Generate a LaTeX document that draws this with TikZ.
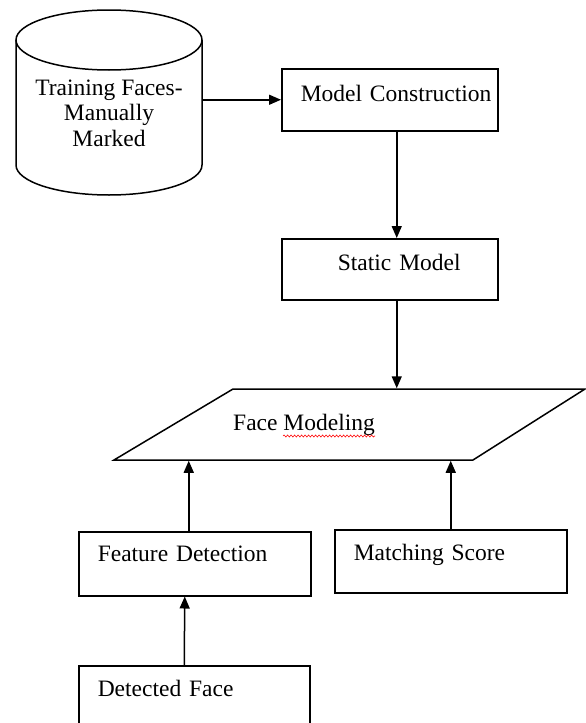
\documentclass[tikz,border=0pt]{standalone}
\usepackage{fontspec}
\setmainfont{Liberation Serif}
\usetikzlibrary{arrows.meta,decorations.pathmorphing}

\begin{document}
\begin{tikzpicture}[x=1pt, y=1pt, line width=1.5pt,
  lbl/.style = {inner sep=0pt, font=\fontsize{23.5}{25.5}\selectfont},
  block/.style = {lbl, rectangle, draw, anchor=north west, align=left, execute at begin node={\hspace*{19pt}}},
  arr/.style = {-{Triangle[length=12pt, width=10pt]}},]

\useasboundingbox (0,0) rectangle (586,-723);

\draw (16,-40) -- (16,-165) arc[start angle=180, end angle=360, x radius=93, y radius=30] -- (202,-40);
\draw (109,-40) ellipse[x radius=93, y radius=30];
\node[lbl, align=center, minimum width=186pt] (train) at (109,-113) {Training Faces-\\Manually\\Marked};

\node[block, text width=216pt, text height=32.5pt, text depth=29.5pt] (mc) at (281,-68) {Model Construction};
\node[block, align=center, text width=216pt, text height=31.5pt, text depth=29.5pt] (sm) at (281,-238) {Static Model};

\draw (233,-389) -- (585,-389) -- (473,-460) -- (114,-460) -- cycle;
\node[lbl, minimum height=71pt] (fm) at (304,-424.5) {Face Modeling};
\draw[red, line width=0.6pt, decorate, decoration={snake, amplitude=1pt, segment length=3.5pt}] (283,-436) -- (375,-436);

\node[block, text width=232pt, text height=30pt, text depth=34pt] (fd) at (78,-531) {Feature Detection};
\node[block, text width=232pt, text height=31pt, text depth=32pt] (ms) at (334,-529) {Matching Score};
\node[block, text width=231pt, text height=31pt, text depth=40pt] (df) at (78,-665) {Detected Face};

\draw[arr] (train.east |- mc.west) -- (mc.west);
\draw[arr] ([xshift=7pt]mc.south) -- ([xshift=7pt]sm.north);
\draw[arr] ([xshift=7pt]sm.south) -- ([xshift=7pt]sm.south |- fm.north);
\draw[arr] ([xshift=-6pt]fd.north) -- ([xshift=-6pt]fd.north |- fm.south);
\draw[arr] (ms.north) -- (ms.north |- fm.south);
\draw[arr] ([xshift=-10pt]df.north) -- ([xshift=-10pt]fd.south);

\end{tikzpicture}
\end{document}
